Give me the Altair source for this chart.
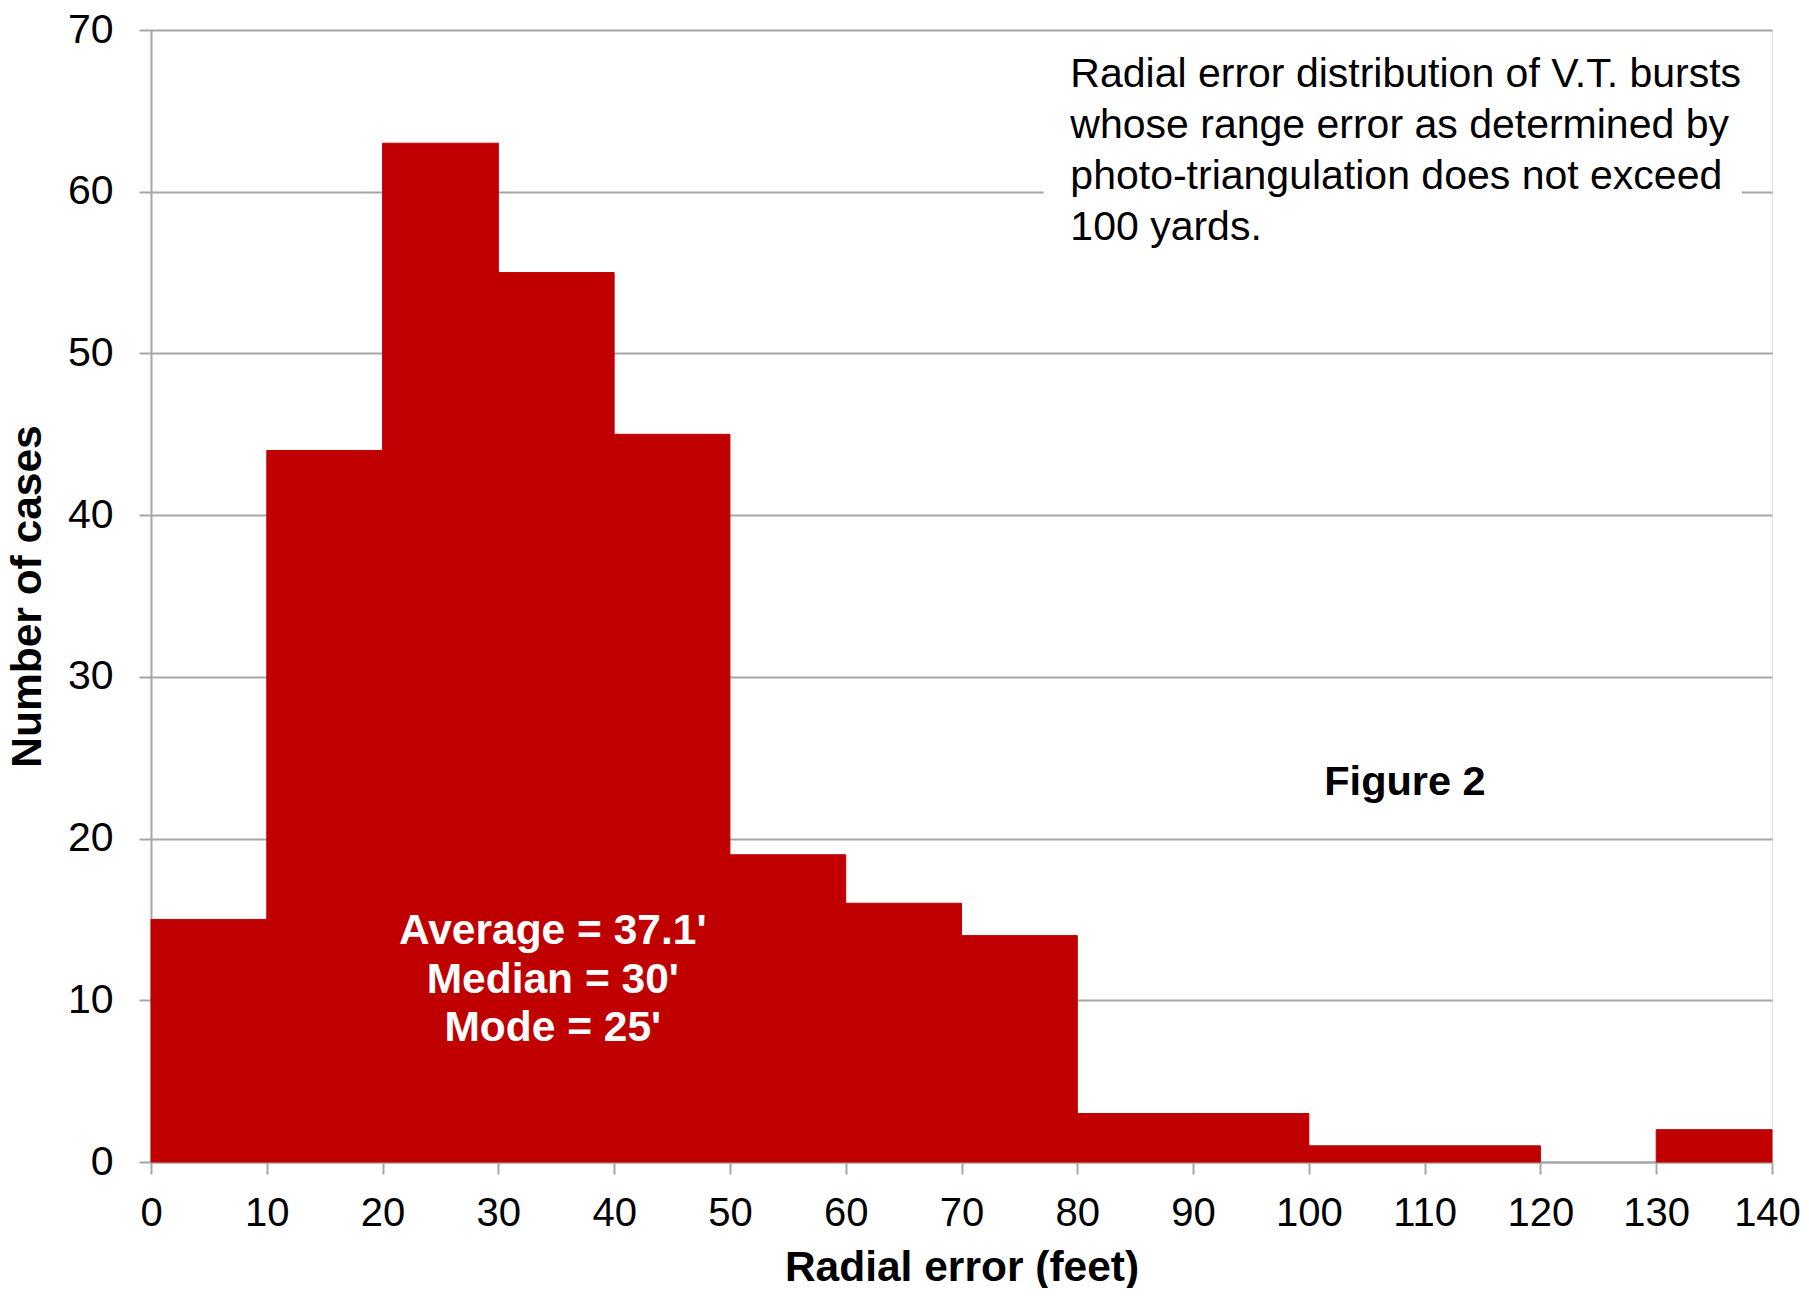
import altair as alt
import pandas as pd

# Histogram data (radial error bins, feet)
bin_start = [0, 10, 20, 30, 40, 50, 60, 70, 80, 90, 100, 110, 120, 130]
counts = [15, 44, 63, 55, 45, 19, 16, 14, 3, 3, 1, 1, 0, 2]
bin_width = 10

x_ticks = list(range(0, 150, 10))
y_ticks = list(range(0, 80, 10))

note_lines = [
    "Radial error distribution of V.T. bursts",
    "whose range error as determined by",
    "photo-triangulation does not exceed",
    "100 yards.",
]
stats_lines = ["Average = 37.1'", "Median = 30'", "Mode = 25'"]
figure_label = "Figure 2"

BAR = "#C00000"
GRID = "#a6a6a6"
FONT = "Liberation Sans"

df = pd.DataFrame({
    "start": bin_start,
    "end": [s + bin_width for s in bin_start],
    "count": counts,
})

xscale = alt.Scale(domain=[0, 140], nice=False, zero=False)
yscale = alt.Scale(domain=[0, 70], nice=False)

x_axis = alt.Axis(
    values=x_ticks, grid=False, tickSize=12, tickColor=GRID, tickWidth=2,
    domainColor=GRID, domainWidth=2, labelFont=FONT, labelFontSize=40,
    labelColor="#000000", labelPadding=19.5, labelFlush=False,
    labelOffset={"condition": {"test": "datum.value == 140", "value": -5}, "value": 0},
    title="Radial error (feet)", titleFont=FONT, titleFontSize=42.5,
    titleFontWeight="bold", titleColor="#000000", titleY=105,
    titleBaseline="middle",
)
y_axis = alt.Axis(
    values=y_ticks, grid=True, gridColor=GRID, gridWidth=2, tickSize=12,
    tickColor=GRID, tickWidth=2, domainColor=GRID, domainWidth=2,
    labelFont=FONT, labelFontSize=41, labelColor="#000000", labelPadding=26,
    title="Number of cases", titleFont=FONT, titleFontSize=42.5,
    titleFontWeight="bold", titleColor="#000000", titleX=-124, titleY=566,
    titleBaseline="middle", titleAlign="center",
)

bars = alt.Chart(df).transform_filter("datum.count > 0").mark_bar(
    color=BAR, stroke=BAR, strokeWidth=1
).encode(
    x=alt.X("start:Q", scale=xscale, axis=x_axis),
    x2="end:Q",
    y=alt.Y("count:Q", scale=yscale, axis=y_axis),
    y2=alt.datum(0),
)

# white panel behind the note (hides the gridline)
box_df = pd.DataFrame({"x": [77.1], "x2": [137.4], "y": [55.0], "y2": [68.5]})
box = alt.Chart(box_df).mark_rect(color="white").encode(
    x=alt.X("x:Q", scale=xscale), x2="x2:Q",
    y=alt.Y("y:Q", scale=yscale), y2="y2:Q",
)

note = alt.Chart(pd.DataFrame({"x": [79.4], "y": [66.5]})).mark_text(
    text=note_lines, align="left", baseline="alphabetic", font=FONT,
    fontSize=41, lineHeight=51.3, color="#000000",
).encode(x=alt.X("x:Q", scale=xscale), y=alt.Y("y:Q", scale=yscale))

stats = alt.Chart(pd.DataFrame({"x": [34.7], "y": [13.48]})).mark_text(
    text=stats_lines, align="center", baseline="alphabetic", font=FONT,
    fontSize=42.5, fontWeight="bold", lineHeight=48.5, color="white",
).encode(x=alt.X("x:Q", scale=xscale), y=alt.Y("y:Q", scale=yscale))

fig = alt.Chart(pd.DataFrame({"x": [108.3], "y": [22.7]})).mark_text(
    text=figure_label, align="center", baseline="alphabetic", font=FONT,
    fontSize=41.5, fontWeight="bold", color="#000000",
).encode(x=alt.X("x:Q", scale=xscale), y=alt.Y("y:Q", scale=yscale))

chart = alt.layer(box, bars, note, stats, fig).properties(
    width=1621, height=1132,
    autosize=alt.AutoSizeParams(type="none"),
    padding={"left": 143, "top": 22, "right": 29, "bottom": 126},
).configure_view(stroke=None).configure(background="white")

chart.save("out.html", embed_options={"renderer": "svg", "actions": False})
